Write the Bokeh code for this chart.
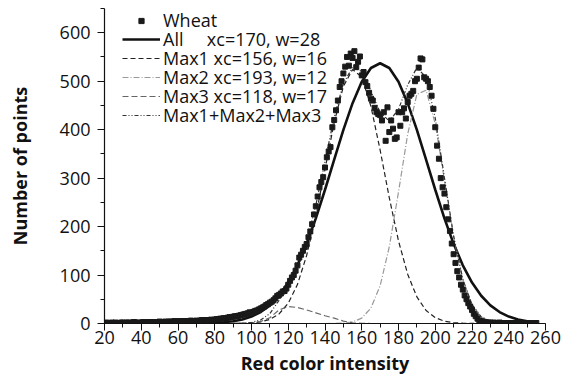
from bokeh.plotting import figure
from bokeh.models import Range1d, Legend, LegendItem, SingleIntervalTicker
from bokeh.embed import file_html
from bokeh.resources import INLINE

# ---- data ----
x_data = list(range(20, 256))
wheat = [1,2,1,1,2,1,2,1,1,2,
         2,1,2,2,1,2,3,2,2,1,
         2,3,2,2,3,2,3,3,2,3,
         4,3,3,4,3,4,4,3,5,4,
         4,5,4,5,5,4,5,6,5,5,
         6,5,6,7,6,7,7,6,8,7,
         8,9,9,10,10,11,11,12,13,13,
         14,15,15,16,17,18,19,20,21,23,
         22,24,26,27,29,31,33,35,38,40,
         43,45,48,52,57,59,62,66,67,72,
         80,88,95,100,109,120,136,142,150,158,
         164,178,190,205,225,242,262,281,292,302,
         322,343,355,364,405,420,440,460,488,500,
         516,530,550,532,557,548,562,529,540,551,
         512,519,498,490,476,464,460,445,436,432,
         430,419,436,377,446,395,419,402,381,384,
         436,408,436,444,423,457,470,474,480,500,
         505,528,547,545,508,505,500,488,470,443,
         405,367,340,300,281,268,240,215,191,165,
         143,125,108,95,80,70,58,50,42,35,
         28,20,15,10,6,5,3,3,2,2,
         2,1,2,1,1,2,1,1,1,1,
         1,1,1,1,1,0,1,1,0,1,
         1,0,1,0,0,1]

x_fit = list(range(20, 256, 5))
fit_all = [0,0,0,0,0,0,0,0,0.1,0.2,0.3,0.7,1.3,2.6,4.7,8.4,14.3,23.6,37.5,57.3,
           84.5,120.1,164.4,217,276,338.2,399.5,454.7,498.7,527.2,537,527.2,498.7,
           454.7,399.5,338.2,276,217,164.4,120.1,84.5,57.3,37.5,23.6,14.3,8.4,4.7,2.6]
fit_max1 = [0,0,0,0,0,0,0,0,0,0,0,0,0,0,0.1,0.4,1.1,3.3,8.4,19.7,41.8,80.3,140.2,
            221.9,318.4,414.5,489.4,524,508.8,448,358,259.4,170.5,101.6,54.9,26.9,
            12,4.8,1.8,0.6,0.2,0,0,0,0,0,0,0]
fit_max2 = [0,0,0,0,0,0,0,0,0,0,0,0,0,0,0,0,0,0,0,0,0,0,0,0,
            0,0.2,0.8,3.2,11.1,32.1,77.8,158.4,271.4,390.7,473,481.3,411.7,296,
            178.9,90.9,38.8,13.9,4.2,1.1,0.2,0,0,0]
fit_max3 = [0,0,0,0,0,0,0,0,0,0,0,0,0,0,0,0.3,1,4,12,28,35,33,28,22,16,11,5,1.5,0.3,
            0,0,0,0,0,0,0,0,0,0,0,0,0,0,0,0,0,0,0]
fit_sum = [0,0,0,0,0,0,0,0,0,0,0,0,0,0,0.1,0.7,2.1,7.3,20.4,47.7,76.8,113.3,168.2,
           243.9,334.4,425.7,495.2,528.7,520.2,480.1,435.8,417.8,441.9,492.3,527.9,
           508.2,423.7,300.8,180.7,91.5,39,13.9,4.2,1.1,0.2,0,0,0]

labels = ["Wheat",
          "All" + "\u00a0" * 5 + "xc=170, w=28",
          "Max1 xc=156, w=16",
          "Max2 xc=193, w=12",
          "Max3 xc=118, w=17",
          "Max1+Max2+Max3"]

FONT = "Open Sans"

p = figure(frame_width=441, frame_height=315, min_border_left=104, min_border_right=20,
           min_border_top=8, min_border_bottom=50,
           x_range=Range1d(20, 260), y_range=Range1d(0, 650),
           output_backend="svg", toolbar_location=None)
p.outline_line_color = None
p.xgrid.visible = False
p.ygrid.visible = False
p.background_fill_color = "white"
p.border_fill_color = "white"

r_all = p.line(x_fit, fit_all, line_color="#111111", line_width=2.6)
r_m1 = p.line(x_fit, fit_max1, line_color="#222222", line_width=1.2, line_dash="5 3")
r_m2 = p.line(x_fit, fit_max2, line_color="#999999", line_width=1.2, line_dash="6 2 1 2")
r_m3 = p.line(x_fit, fit_max3, line_color="#666666", line_width=1.2, line_dash="6 3")
r_sum = p.line(x_fit, fit_sum, line_color="#333333", line_width=1.2, line_dash="4 2 1 2 1 2")
r_w = p.scatter(x_data, wheat, marker="square", size=5, fill_color="#1a1a1a",
                line_color="#1a1a1a")

# one single-row legend per entry, so the rows can sit 19px apart
renderers = [r_w, r_all, r_m1, r_m2, r_m3, r_sum]
row_y = [291, 272, 253, 234, 215, 196]
glyph_h = [13, 24, 24, 24, 24, 24]
for lab, r, yy, gh in zip(labels, renderers, row_y, glyph_h):
    lg = Legend(items=[LegendItem(label=lab, renderers=[r])],
                location=(18, yy), padding=0, margin=0, spacing=0,
                glyph_width=38, glyph_height=gh, label_height=24, label_standoff=3,
                label_text_font=FONT, label_text_font_size="18px",
                label_text_color="#111111",
                background_fill_alpha=0, border_line_color=None)
    p.add_layout(lg)

for ax in (p.xaxis[0], p.yaxis[0]):
    ax.axis_line_color = "#111111"
    ax.axis_line_width = 1.2
    ax.major_tick_line_color = "#111111"
    ax.minor_tick_line_color = "#111111"
    ax.major_tick_in = 0
    ax.major_tick_out = 7
    ax.minor_tick_in = 0
    ax.minor_tick_out = 4
    ax.major_label_text_font = FONT
    ax.major_label_text_font_size = "18px"
    ax.major_label_text_color = "#111111"
    ax.axis_label_text_font = FONT
    ax.axis_label_text_font_size = "18px"
    ax.axis_label_text_font_style = "bold"
    ax.axis_label_text_color = "#111111"

p.xaxis[0].ticker = SingleIntervalTicker(interval=20, num_minor_ticks=2)
p.yaxis[0].ticker = SingleIntervalTicker(interval=100, num_minor_ticks=2)
p.xaxis[0].axis_label = "Red color intensity"
p.yaxis[0].axis_label = "Number of points"
p.xaxis[0].major_label_standoff = 0
p.xaxis[0].axis_label_standoff = 4
p.yaxis[0].major_label_standoff = 7
p.yaxis[0].axis_label_standoff = 25

open("out.html", "w").write(file_html(p, INLINE))
